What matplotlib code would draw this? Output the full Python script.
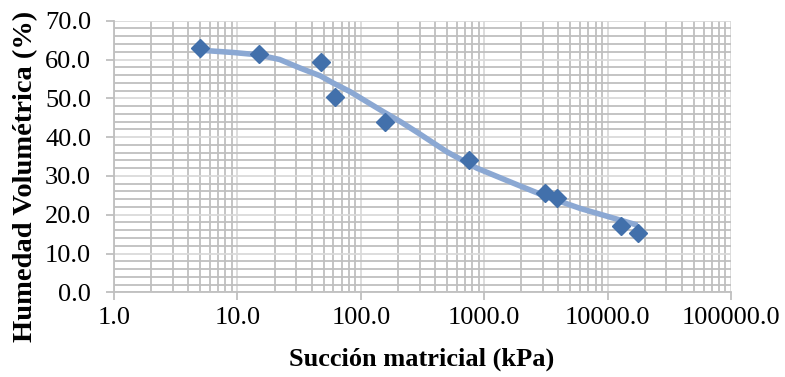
import matplotlib
matplotlib.use("Agg")
import matplotlib.pyplot as plt
from matplotlib.ticker import LogLocator, FixedLocator, MultipleLocator, FuncFormatter, NullFormatter

# measured data (suction kPa, volumetric water content %)
suction = [5.0, 15.0, 47.5, 62.0, 158.0, 748.0, 3090.0, 3900.0, 12900.0, 17550.0]
humidity = [63.0, 61.5, 59.4, 50.3, 43.8, 34.1, 25.7, 24.2, 17.2, 15.2]

# fitted smooth curve
curve_x = [5.0, 9.3, 14.8, 22.0, 32.2, 46.9, 60.0, 82.0, 112.0, 153.0, 209.0, 294.0,
           499.0, 872.0, 1730.0, 3230.0, 6020.0, 11200.0, 17500.0]
curve_y = [62.4, 61.8, 61.2, 60.0, 57.8, 55.8, 53.9, 51.7, 49.1, 46.5, 44.0, 41.0,
           36.2, 32.0, 28.1, 24.6, 21.6, 19.1, 17.3]

x_ticks = [1, 10, 100, 1000, 10000, 100000]
y_ticks = [0, 10, 20, 30, 40, 50, 60, 70]

plt.rcParams['font.family'] = ['Liberation Serif', 'DejaVu Serif']

fig = plt.figure(figsize=(7.85, 3.77), dpi=100)
ax = fig.add_axes([114/785, 1-292.3/377, (731-114)/785, (292.3-20.7)/377])

ax.set_xscale('log')
ax.set_xlim(1, 100000)
ax.set_ylim(0, 70)

ax.xaxis.set_major_locator(FixedLocator(x_ticks))
ax.xaxis.set_minor_locator(LogLocator(base=10, subs=range(2, 10), numticks=20))
ax.xaxis.set_major_formatter(FuncFormatter(lambda v, p: f"{v:.1f}"))
ax.xaxis.set_minor_formatter(NullFormatter())
ax.yaxis.set_major_locator(FixedLocator(y_ticks))
ax.yaxis.set_minor_locator(MultipleLocator(2))
ax.yaxis.set_major_formatter(FuncFormatter(lambda v, p: f"{v:.1f}"))

ax.grid(which='minor', color='#bfbfbf', linewidth=1.3, zorder=0)
ax.grid(which='major', color='#dadada', linewidth=1.3, zorder=0)
ax.set_axisbelow(True)

for s in ['top', 'right']:
    ax.spines[s].set_visible(False)
for s in ['left', 'bottom']:
    ax.spines[s].set_color('#bfbfbf')
    ax.spines[s].set_linewidth(1.3)

ax.tick_params(which='major', length=5.5, width=1.3, color='#bfbfbf', labelsize=19)
ax.tick_params(axis='x', which='major', pad=5)
ax.tick_params(axis='y', which='major', pad=11)
ax.tick_params(which='minor', length=0)

ax.plot(curve_x, curve_y, color='#8ba8d3', linewidth=4, solid_capstyle='butt',
        solid_joinstyle='round', zorder=2)
ax.plot(suction, humidity, linestyle='none', marker='D', markersize=9.5,
        color='#4270ab', markeredgecolor='#4270ab', zorder=3)

ax.set_xlabel('Succión matricial (kPa)', fontsize=19, fontweight='bold', va='center')
ax.xaxis.set_label_coords(0.499, -0.245)
ax.set_ylabel('Humedad Volumétrica (%)', fontsize=20.5, fontweight='bold', va='center')
ax.yaxis.set_label_coords(-0.144, 0.426)

fig.savefig('out.png', dpi=100)
